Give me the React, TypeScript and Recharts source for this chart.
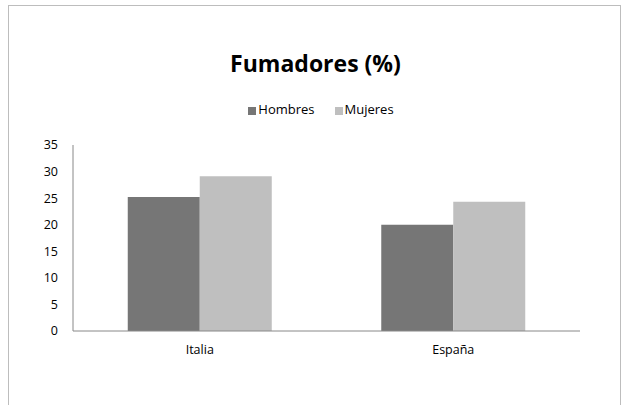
import { BarChart, Bar, XAxis, YAxis, Legend } from 'recharts'

const paises = ['Italia', 'España']
const hombres = [25.2, 20.0]
const mujeres = [29.1, 24.3]
const ticksY = [0, 5, 10, 15, 20, 25, 30, 35]

const data = paises.map((p, i) => ({
  pais: p,
  Hombres: hombres[i],
  Mujeres: mujeres[i],
}))

const font = '"Open Sans", "DejaVu Sans", sans-serif'

export default function App() {
  return (
    <div style={{ position: 'absolute', left: 0, top: 0, width: 622, height: 405, overflow: 'hidden', fontFamily: font, background: '#fff' }}>
      <div style={{
        position: 'absolute',
        left: 8,
        top: 5,
        width: 613,
        height: 430,
        border: '1px solid #bdbdbd',
        boxSizing: 'border-box',
      }} />

      <div style={{
        position: 'absolute',
        left: 0,
        width: 631,
        top: 47,
        textAlign: 'center',
        fontSize: 23,
        fontWeight: 700,
        color: '#000',
      }}>
        Fumadores (%)
      </div>

      <div style={{ position: 'absolute', left: 0, top: 0 }}>
        <BarChart
          width={622}
          height={405}
          data={data}
          margin={{ top: 127, right: 42, bottom: 44, left: 33 }}
          barCategoryGap="21.6%"
          barGap={0}
        >
          <Legend
            verticalAlign="top"
            iconType="square"
            iconSize={8}
            wrapperStyle={{ top: 100, left: 6, width: 640, fontSize: 13, color: '#000' }}
            formatter={(v) => (
              <span style={{ color: '#000', marginLeft: -2, marginRight: v === 'Hombres' ? 10 : 0 }}>{v}</span>
            )}
          />
          <XAxis
            dataKey="pais"
            tickLine={false}
            tickMargin={8}
            axisLine={{ stroke: '#888' }}
            tick={{ fill: '#000', fontSize: 12.5, fontFamily: font }}
          />
          <YAxis
            width={40}
            domain={[0, 35]}
            ticks={ticksY}
            interval={0}
            tickLine={false}
            tickMargin={9}
            axisLine={{ stroke: '#888' }}
            tick={{ fill: '#000', fontSize: 12.5, fontFamily: font }}
          />
          <Bar dataKey="Hombres" fill="#767676" isAnimationActive={false} />
          <Bar dataKey="Mujeres" fill="#bfbfbf" isAnimationActive={false} />
        </BarChart>
      </div>
    </div>
  )
}
